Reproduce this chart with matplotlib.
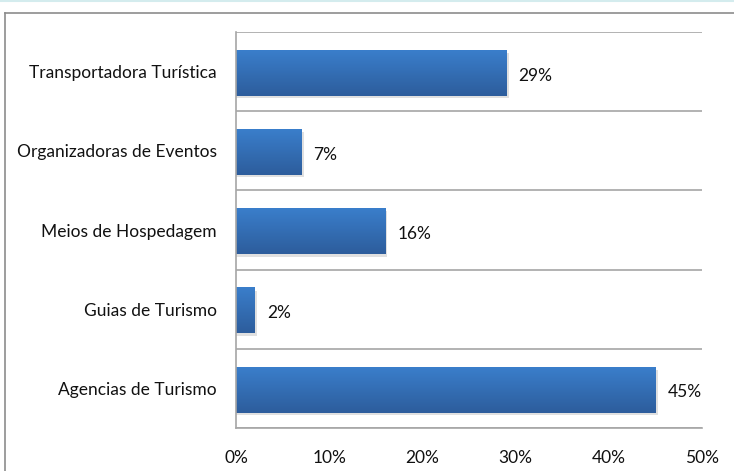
import matplotlib
matplotlib.use("Agg")
import matplotlib.pyplot as plt
import numpy as np
from matplotlib.lines import Line2D
from matplotlib.ticker import FuncFormatter
from matplotlib.colors import LinearSegmentedColormap

categories = ["Agencias de Turismo", "Guias de Turismo", "Meios de Hospedagem",
              "Organizadoras de Eventos", "Transportadora Turística"]
values = [45, 2, 16, 7, 29]
xticks = [0, 10, 20, 30, 40, 50]

plt.rcParams['font.family'] = ['Lato', 'DejaVu Sans']

fig = plt.figure(figsize=(7.34, 4.71), dpi=100)
ax = fig.add_axes([236/734, 1-428/471, (702-236)/734, (428-32)/471])

n = len(categories)
ypos = np.arange(n)
h = 0.57
grad = np.linspace(0, 1, 64).reshape(-1, 1)
cmap = LinearSegmentedColormap.from_list("g", ["#2d5d9c", "#3a7ecb"])
bars = ax.barh(ypos, values, height=h, color="none", edgecolor="none")
for b, v in zip(bars, values):
    y0 = b.get_y() - 0.02
    ax.add_patch(plt.Rectangle((0, y0 - 0.03), v + 0.25, h, color="#000000", alpha=0.12, lw=0, zorder=1))
    ax.imshow(grad, extent=(0, v, y0, y0 + h), aspect="auto", cmap=cmap, origin="lower", zorder=2)
    ax.text(v + 1.3, y0 + h/2 - 0.03, f"{v}%", va="center", ha="left", fontsize=12.5, color="#111111")

ax.set_xlim(0, 50)
ax.set_ylim(-0.5, n - 0.5)
ax.set_yticks(ypos)
ax.set_yticklabels(categories, fontsize=12.5, color="#111111")
ax.set_xticks(xticks)
ax.xaxis.set_major_formatter(FuncFormatter(lambda x, p: f"{int(x)}%"))
ax.tick_params(axis='x', length=0, pad=16, labelsize=12.5, colors="#111111")
ax.tick_params(axis='y', length=0, pad=14)
for yb in np.arange(-0.5, n, 1.0):
    ax.axhline(yb, color="#a6a6a6", lw=1.2, zorder=0)
for s in ["top", "right"]:
    ax.spines[s].set_visible(False)
for s in ["left", "bottom"]:
    ax.spines[s].set_color("#a6a6a6")
    ax.spines[s].set_linewidth(1.2)

fig.add_artist(Line2D([5/734, 5/734], [0, 1-13/471], color="#8c8c8c", lw=1.2, transform=fig.transFigure))
fig.add_artist(Line2D([5/734, 1], [1-13/471, 1-13/471], color="#8c8c8c", lw=1.2, transform=fig.transFigure))
fig.add_artist(Line2D([0, 1], [1-1/471, 1-1/471], color="#d4ecee", lw=1.5, transform=fig.transFigure))

fig.savefig("out.png", dpi=100)
